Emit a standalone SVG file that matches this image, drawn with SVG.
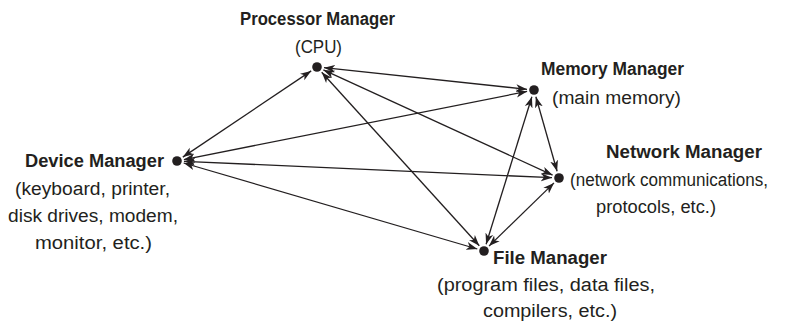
<svg xmlns="http://www.w3.org/2000/svg" width="800" height="323" viewBox="0 0 800 323">
<style>
.t{font-family:"Liberation Sans",Arial,sans-serif;font-size:18px;fill:#231f20}
.b{font-weight:bold;font-size:17.5px}
.dot{fill:#231f20}
.e{stroke:#231f20;stroke-width:1.3;fill:none;marker-start:url(#ah);marker-end:url(#ah)}
</style>
<defs>
<marker id="ah" markerUnits="userSpaceOnUse" markerWidth="12" markerHeight="9" refX="11" refY="4" orient="auto-start-reverse" viewBox="0 0 12 8">
<path d="M0,0 L11,4 L0,8 L3,4 z" fill="#231f20"/>
</marker>
</defs>
<rect width="800" height="323" fill="#ffffff"/>
<g id="connectors">
<line class="e" x1="311.2" y1="70.9" x2="182.8" y2="157.1"/>
<line class="e" x1="324.0" y1="67.7" x2="527.0" y2="89.3"/>
<line class="e" x1="323.4" y1="69.9" x2="552.6" y2="175.1"/>
<line class="e" x1="321.7" y1="72.2" x2="479.3" y2="245.8"/>
<line class="e" x1="183.9" y1="159.6" x2="527.1" y2="91.4"/>
<line class="e" x1="184.0" y1="161.3" x2="552.0" y2="177.7"/>
<line class="e" x1="183.7" y1="163.0" x2="477.3" y2="249.0"/>
<line class="e" x1="535.9" y1="96.7" x2="557.1" y2="171.3"/>
<line class="e" x1="531.9" y1="96.7" x2="486.1" y2="244.3"/>
<line class="e" x1="554.0" y1="182.9" x2="489.0" y2="246.1"/>
</g>
<g id="processor">
<circle class="dot" cx="317" cy="67" r="4.8"/>
<text class="t b" x="240" y="25" textLength="155" lengthAdjust="spacingAndGlyphs">Processor Manager</text>
<text class="t" x="295" y="53" textLength="47" lengthAdjust="spacingAndGlyphs">(CPU)</text>
</g>
<g id="device">
<circle class="dot" cx="177" cy="161" r="4.8"/>
<text class="t b" x="25" y="167" textLength="139" lengthAdjust="spacingAndGlyphs">Device Manager</text>
<text class="t" x="15" y="195" textLength="155" lengthAdjust="spacingAndGlyphs">(keyboard, printer,</text>
<text class="t" x="8" y="222" textLength="170" lengthAdjust="spacingAndGlyphs">disk drives, modem,</text>
<text class="t" x="35" y="249" textLength="117" lengthAdjust="spacingAndGlyphs">monitor, etc.)</text>
</g>
<g id="memory">
<circle class="dot" cx="534" cy="90" r="4.8"/>
<text class="t b" x="541" y="75" textLength="143" lengthAdjust="spacingAndGlyphs">Memory Manager</text>
<text class="t" x="552" y="104" textLength="129" lengthAdjust="spacingAndGlyphs">(main memory)</text>
</g>
<g id="network">
<circle class="dot" cx="559" cy="178" r="4.8"/>
<text class="t b" x="606" y="158" textLength="156" lengthAdjust="spacingAndGlyphs">Network Manager</text>
<text class="t" x="570" y="186" textLength="198" lengthAdjust="spacingAndGlyphs">(network communications,</text>
<text class="t" x="596" y="213" textLength="120" lengthAdjust="spacingAndGlyphs">protocols, etc.)</text>
</g>
<g id="file">
<circle class="dot" cx="484" cy="251" r="4.8"/>
<text class="t b" x="493" y="264" textLength="114" lengthAdjust="spacingAndGlyphs">File Manager</text>
<text class="t" x="437" y="291" textLength="218" lengthAdjust="spacingAndGlyphs">(program files, data files,</text>
<text class="t" x="483" y="317" textLength="134" lengthAdjust="spacingAndGlyphs">compilers, etc.)</text>
</g>
</svg>
